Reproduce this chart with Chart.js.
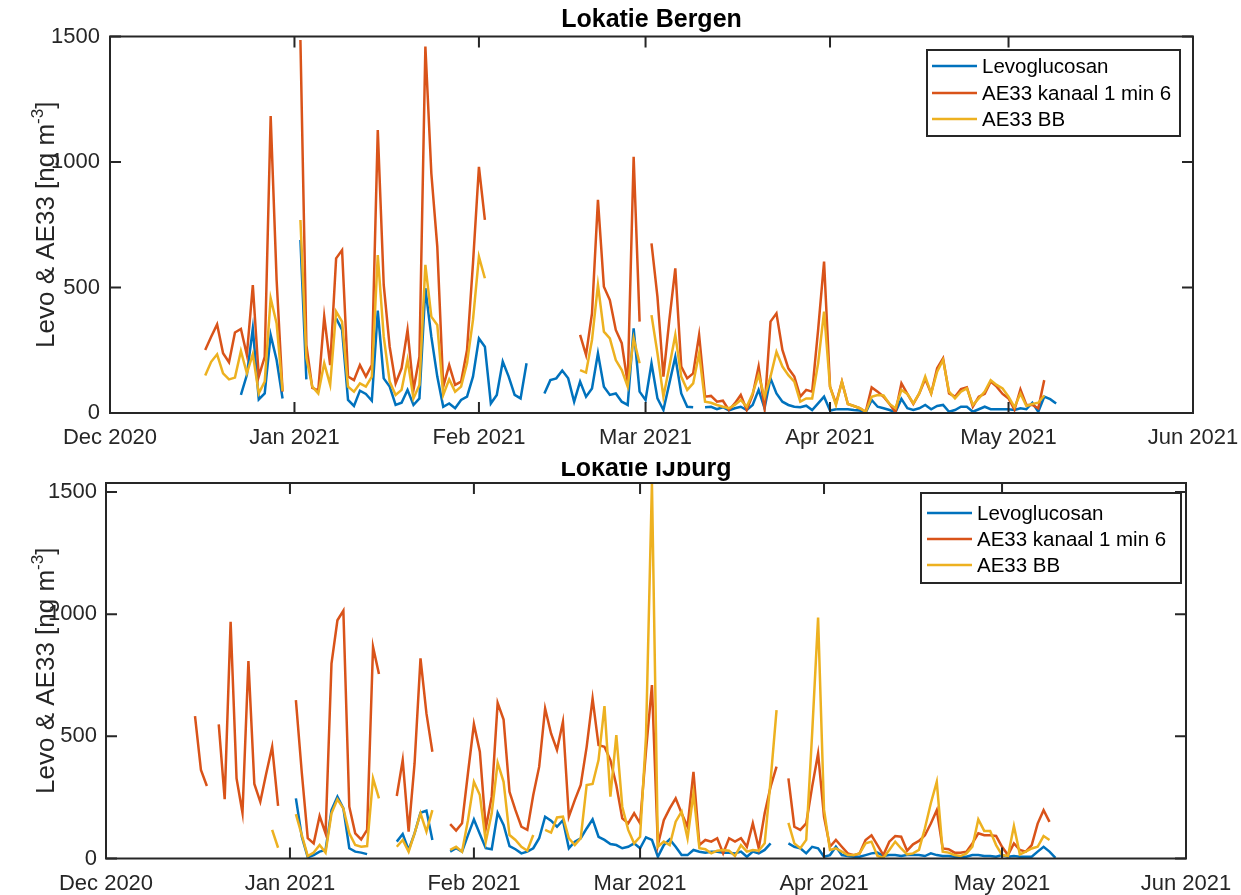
<!DOCTYPE html>
<html>
<head>
<meta charset="utf-8">
<script src="https://cdn.jsdelivr.net/npm/chart.js@4.4.1/dist/chart.umd.min.js"></script>
<style>
  html, body { margin: 0; padding: 0; background: #fff; }
  #wrap { position: relative; width: 1241px; height: 895px; overflow: hidden; background: #fff; }
  #ijburg { position: absolute; left: 0; top: 0; z-index: 1; }
  #bergen { position: absolute; left: 0; top: 0; z-index: 2; background: #fff; }
</style>
</head>
<body>
<div id="wrap">
  <canvas id="ijburg" width="1241" height="895" style="width:1241px;height:895px"></canvas>
  <canvas id="bergen" width="1241" height="462" style="width:1241px;height:462px"></canvas>
</div>
<script>
// Month ticks, counted in days from 1 Dec 2020
const monthTicks = [0, 31, 62, 90, 121, 151, 182];
const monthLabels = ['Dec 2020', 'Jan 2021', 'Feb 2021', 'Mar 2021', 'Apr 2021', 'May 2021', 'Jun 2021'];
const valueTicks = [0, 500, 1000, 1500];

// Daily series start on 16 Dec 2020 (day 15); null = no measurement
const firstDay = 15;

// ---- Lokatie Bergen ----
const bergenLevo = [
  null, null, null, null, null, null, null, 72, 151, 337, 54, 78, 311, 211, 58, null,
  null, 689, 134, null, null, null, null, 377, 331, 52, 28, 89, 76, 49, 408, 138, 105, 32, 41, 92, 32, 58, 497, 304, 145, 25, 38, 19, 52, 65, 145,
  297, 264, 38, 72, 205, 145, 72, 58, 198, null, null, 78, 131, 138, 169, 138, 45, 125, 65, 98, 238, 105, 72, 78, 45, 32, 337, 85,
  52, 198, 58, 12, 118, 224, 78, 25, 23, null, 23, 25, 15, 23, 10, 19, 25, 12, 32, 92, 19, 138, 78, 45, 32, 25, 23, 29, 12, 38, 65,
  10, 15, 15, 15, 12, 10, 2, 52, 25, 19, 12, 3, 56, 19, 12, 19, 32, 15, 28, 32, 5, 12, 25, 25, 5, 15, 25, 15, 15, 15,
  15, 12, 19, 15, 41, 5, 65, 55, 38, null
];
const bergenAE33 = [
  null, 251, 304, 353, 238, 202, 321, 335, 231, 510, 145, 224, 1183, 530, 85, null,
  null, 1486, 270, 100, 90, 384, 191, 616, 649, 145, 131, 191, 145, 191, 1127, 510, 264, 118, 178, 331, 92, 224, 1460, 955, 663, 105, 191, 112, 125, 251, 596,
  981, 769, null, null, null, null, null, null, null, null, null, null, null, null, null, null, null, 311, 231, 397, 849, 503, 450, 331, 278, 118, 1021, 364,
  null, 676, 463, 145, 371, 576, 185, 138, 158, 311, 65, 68, 45, 49, 12, 38, 72, 12, 72, 185, 19, 364, 397, 251, 178, 145, 65, 92, 85, 331, 603,
  105, 38, 125, 36, 28, 19, 5, 102, 85, 65, 36, 3, 118, 76, 36, 78, 135, 78, 178, 218, 78, 65, 95, 102, 25, 65, 76, 125, 105, 76,
  58, 13, 94, 32, 32, 19, 131, null, null, null
];
const bergenBB = [
  null, 149, 204, 234, 158, 134, 141, 247, 158, 235, 78, 125, 457, 357, 88, null,
  null, 769, 220, 105, 78, 198, 112, 404, 364, 105, 85, 118, 105, 145, 629, 304, 125, 72, 92, 211, 58, 112, 590, 384, 351, 72, 134, 85, 105, 198, 371,
  623, 537, null, null, null, null, null, null, null, null, null, null, null, null, null, null, null, 171, 161, 291, 510, 324, 297, 211, 171, 105, 297, 198,
  null, 390, 238, 65, 185, 311, 145, 92, 118, 238, 45, 41, 32, 25, 19, 32, 52, 25, 78, 151, 65, 145, 244, 185, 151, 125, 45, 58, 58, 198, 404,
  105, 32, 125, 36, 28, 19, 5, 65, 72, 70, 36, 19, 92, 76, 38, 78, 145, 78, 165, 211, 85, 58, 85, 98, 32, 58, 85, 131, 112, 98,
  65, 23, 78, 28, 36, 41, 70, null, null, null
];

// ---- Lokatie IJburg ----
const ijburgLevo = [
  null, null, null, null, null, null, null, null, null, null, null, null, null, null, null, null,
  null, 246, 89, 5, 14, 28, 35, 198, 253, 205, 42, 28, 24, 18, null, null, null, null, 69, 100, 35, 103, 187, 196, 76, null, null, 28, 42, 28, 96,
  160, 100, 42, 38, 187, 137, 51, 38, 21, 28, 42, 83, 171, 155, 130, 157, 42, 69, 83, 123, 160, 89, 76, 59, 55, 42, 48, 62,
  42, 87, 76, 7, 55, 78, 48, 14, 14, 35, 28, 24, 28, 28, 24, 24, 21, 28, 7, 28, 21, 35, 62, null, null, 62, 48, 42, 21, 48, 42,
  7, 14, 48, 14, 10, 7, 7, 14, 21, 24, 10, 14, 14, 10, 14, 14, 14, 10, 21, 14, 10, 10, 7, 7, 7, 14, 14, 10, 10, 7,
  14, 7, 10, 7, 7, 7, 28, 48, 28, 3
];
const ijburgAE33 = [
  583, 362, 297, null, 549, 243, 969, 328, 187, 808, 305, 232, 348, 457, 215, null,
  null, 648, 350, 83, 62, 174, 103, 798, 975, 1014, 212, 103, 78, 117, 866, 755, null, null, 256, 403, 110, 389, 819, 594, 437, null, null, 141, 114, 144, 350,
  550, 437, 123, 253, 637, 569, 273, 198, 130, 117, 260, 376, 614, 512, 444, 560, 171, 239, 301, 457, 655, 464, 457, 403, 300, 164, 144, 185,
  144, 440, 710, 55, 157, 205, 246, 185, 130, 355, 55, 76, 69, 83, 21, 83, 69, 83, 48, 144, 42, 185, 294, 376, null, 328, 130, 117, 144, 294, 430,
  171, 48, 76, 48, 21, 14, 21, 76, 95, 55, 14, 69, 92, 89, 32, 58, 72, 95, 143, 198, 41, 38, 24, 24, 28, 62, 103, 95, 95, 92,
  48, 14, 62, 35, 28, 55, 143, 198, 150, null
];
const ijburgBB = [
  null, null, null, null, null, null, null, null, null, null, null, null, null, 117, 44, null,
  null, 182, 96, 10, 24, 55, 24, 185, 242, 205, 103, 55, 48, 51, 328, 246, null, null, 48, 76, 28, 103, 185, 110, 198, null, null, 35, 48, 28, 157,
  314, 260, 69, 185, 392, 314, 96, 76, 48, 32, 96, null, 117, 106, 168, 171, 83, 55, 83, 301, 305, 403, 624, 253, 505, 212, 117, 62,
  89, 500, 1537, 48, 69, 55, 151, 192, 83, 267, 42, 38, 21, 32, 35, 32, 10, 55, 28, 35, 32, 62, 321, 607, null, 146, 62, 42, 76, 512, 986,
  200, 35, 42, 28, 14, 14, 21, 62, 69, 10, 3, 35, 69, 41, 17, 21, 35, 124, 226, 314, 28, 24, 14, 10, 21, 48, 160, 113, 113, 55,
  14, 10, 133, 17, 28, 41, 48, 92, 76, null
];

const seriesNames = ['Levoglucosan', 'AE33 kanaal 1 min 6', 'AE33 BB'];
const seriesColors = ['#0072BD', '#D95319', '#EDB120'];

const FONT = "'Liberation Sans', Arial, Helvetica, sans-serif";
const INK = '#262626';

function toPoints(values) {
  return values.map((v, i) => ({ x: firstDay + i, y: v }));
}

// Axes box, inward ticks, title, y label and legend in the MATLAB style
const axesDecor = {
  id: 'axesDecor',
  afterDraw(chart, args, o) {
    const { ctx, chartArea: a } = chart;
    const xs = chart.scales.x, ys = chart.scales.y;
    ctx.save();
    ctx.strokeStyle = INK;
    ctx.lineWidth = 2;
    ctx.strokeRect(a.left, a.top, a.right - a.left, a.bottom - a.top);
    ctx.beginPath();
    const tl = 11;
    monthTicks.forEach(d => {
      const px = xs.getPixelForValue(d);
      ctx.moveTo(px, a.bottom); ctx.lineTo(px, a.bottom - tl);
      ctx.moveTo(px, a.top); ctx.lineTo(px, a.top + tl);
    });
    valueTicks.forEach(v => {
      const py = ys.getPixelForValue(v);
      ctx.moveTo(a.left, py); ctx.lineTo(a.left + tl, py);
      ctx.moveTo(a.right, py); ctx.lineTo(a.right - tl, py);
    });
    ctx.stroke();

    // title
    ctx.fillStyle = '#000';
    ctx.font = 'bold 25px ' + FONT;
    ctx.textAlign = 'center';
    ctx.textBaseline = 'alphabetic';
    ctx.fillText(o.title, (a.left + a.right) / 2, o.titleBaseline);

    // y label with superscript
    ctx.save();
    ctx.translate(o.ylabelX, (a.top + a.bottom) / 2);
    ctx.rotate(-Math.PI / 2);
    ctx.fillStyle = INK;
    ctx.textBaseline = 'alphabetic';
    ctx.textAlign = 'left';
    const mainFont = '26px ' + FONT, supFont = '17px ' + FONT;
    const p1 = 'Levo & AE33 [ng m', p2 = '-3', p3 = ']';
    ctx.font = mainFont; const w1 = ctx.measureText(p1).width, w3 = ctx.measureText(p3).width;
    ctx.font = supFont; const w2 = ctx.measureText(p2).width;
    let sx = -(w1 + w2 + w3) / 2;
    const base = 9;
    ctx.font = mainFont; ctx.fillText(p1, sx, base); sx += w1;
    ctx.font = supFont; ctx.fillText(p2, sx, base - 11); sx += w2;
    ctx.font = mainFont; ctx.fillText(p3, sx, base);
    ctx.restore();

    // legend
    const L = o.legend;
    ctx.fillStyle = '#fff';
    ctx.fillRect(L.x0, L.y0, L.x1 - L.x0, L.y1 - L.y0);
    ctx.lineWidth = 2;
    ctx.strokeStyle = INK;
    ctx.strokeRect(L.x0, L.y0, L.x1 - L.x0, L.y1 - L.y0);
    ctx.font = '20.5px ' + FONT;
    ctx.textAlign = 'left';
    ctx.textBaseline = 'middle';
    seriesNames.forEach((name, i) => {
      const yy = L.rows[i];
      ctx.strokeStyle = seriesColors[i];
      ctx.lineWidth = 2.5;
      ctx.beginPath(); ctx.moveTo(L.lineX0, yy); ctx.lineTo(L.lineX1, yy); ctx.stroke();
      ctx.fillStyle = '#000';
      ctx.fillText(name, L.textX, yy + 1);
    });
    ctx.restore();
  }
};

function makeChart(canvasId, g, series) {
  const canvas = document.getElementById(canvasId);
  const W = canvas.width, H = canvas.height;
  const datasets = series.map((vals, i) => ({
    label: seriesNames[i],
    data: toPoints(vals),
    borderColor: seriesColors[i],
    backgroundColor: seriesColors[i],
    borderWidth: 2.5,
    pointRadius: 0,
    tension: 0,
    spanGaps: false,
    order: 2 - i
  }));
  return new Chart(canvas, {
    type: 'line',
    data: { datasets },
    options: {
      responsive: false,
      animation: false,
      devicePixelRatio: 1,
      layout: { autoPadding: false, padding: { left: 0, right: W - g.right, top: g.top, bottom: 0 } },
      plugins: {
        legend: { display: false },
        title: { display: false },
        tooltip: { enabled: false },
        axesDecor: g.decor
      },
      scales: {
        x: {
          type: 'linear', min: 0, max: 182,
          grid: { display: false, drawTicks: false },
          border: { display: false },
          afterBuildTicks: s => { s.ticks = monthTicks.map(v => ({ value: v })); },
          afterFit: s => { s.height = H - g.bottom; s.paddingLeft = 0; s.paddingRight = 0; },
          ticks: {
            autoSkip: false, maxRotation: 0, minRotation: 0, padding: g.xPad,
            color: INK, font: { family: FONT, size: 22 },
            callback: v => monthLabels[monthTicks.indexOf(v)]
          }
        },
        y: {
          type: 'linear', min: 0, max: g.ymax,
          grid: { display: false, drawTicks: false },
          border: { display: false },
          afterBuildTicks: s => { s.ticks = valueTicks.map(v => ({ value: v })); },
          afterFit: s => { s.width = g.left; s.paddingTop = 0; s.paddingBottom = 0; },
          ticks: {
            padding: g.yPad, color: INK, font: { family: FONT, size: 22 },
            callback: v => String(v)
          }
        }
      }
    },
    plugins: [axesDecor]
  });
}

makeChart('ijburg', {
  left: 106, right: 1186, top: 483, bottom: 858.5, ymax: 1537, xPad: 12, yPad: 9,
  decor: {
    title: 'Lokatie IJburg', titleBaseline: 476, ylabelX: 45,
    legend: { x0: 921, y0: 493, x1: 1181, y1: 583, rows: [513, 539, 565], lineX0: 927, lineX1: 972, textX: 977 }
  }
}, [ijburgLevo, ijburgAE33, ijburgBB]);

makeChart('bergen', {
  left: 110, right: 1193, top: 36.5, bottom: 413, ymax: 1500, xPad: 12, yPad: 10,
  decor: {
    title: 'Lokatie Bergen', titleBaseline: 27, ylabelX: 45,
    legend: { x0: 927, y0: 50, x1: 1180, y1: 136, rows: [66, 93, 119], lineX0: 932, lineX1: 977, textX: 982 }
  }
}, [bergenLevo, bergenAE33, bergenBB]);
</script>
</body>
</html>
